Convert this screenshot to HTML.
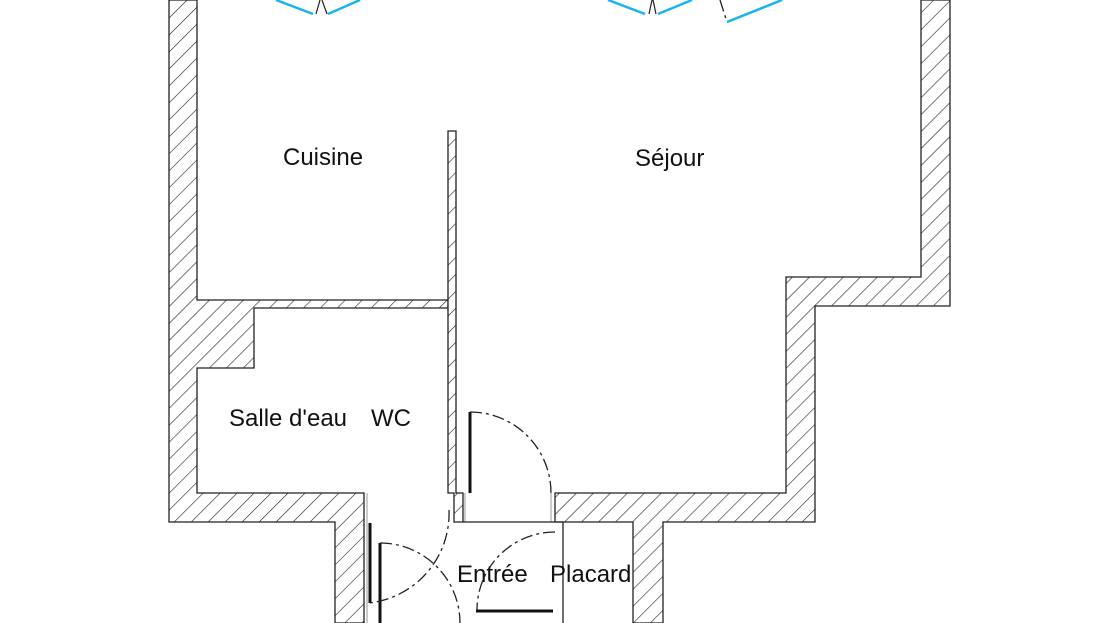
<!DOCTYPE html>
<html><head><meta charset="utf-8">
<style>
html,body{margin:0;padding:0;background:#fff;}
svg{display:block;}
text{font-family:"Liberation Sans",sans-serif;font-size:24px;fill:#111;}
</style></head>
<body>
<svg width="1110" height="623" viewBox="0 0 1110 623" xmlns="http://www.w3.org/2000/svg">
<defs>
<pattern id="h" patternUnits="userSpaceOnUse" width="12" height="12" patternTransform="rotate(45)">
<rect width="12" height="12" fill="#fff"/>
<line x1="0" y1="0" x2="0" y2="12" stroke="#222" stroke-width="1.2"/>
</pattern>
</defs>
<g fill="url(#h)" stroke="#222" stroke-width="1.3">
<polygon points="169,0 197,0 197,300 448,300 448,308 254,308 254,368 197,368 197,493 364,493 364,623 335,623 335,522 169,522"/>
<polygon points="448,131 456,131 456,493 463,493 463,522 454,522 454,493 448,493"/>
<polygon points="921,0 950,0 950,306 815,306 815,522 663,522 663,623 633,623 633,522 555,522 555,493 786,493 786,277 921,277"/>
</g>
<g stroke="#999" stroke-width="1" fill="none">
<line x1="367" y1="493" x2="367" y2="623"/>
<line x1="465" y1="493" x2="465" y2="522"/>
<line x1="551" y1="493" x2="551" y2="522"/>
</g>
<g stroke="#222" stroke-width="1.3" fill="none">
<line x1="463" y1="522" x2="563" y2="522"/>
<line x1="563" y1="522" x2="563" y2="623"/>
</g>
<g stroke="#111" stroke-width="3" fill="none">
<line x1="470" y1="412" x2="470" y2="493"/>
<line x1="370" y1="523" x2="370" y2="603"/>
<line x1="380" y1="543" x2="380" y2="623"/>
<line x1="476" y1="611" x2="553" y2="611"/>
</g>
<g stroke="#222" stroke-width="1.3" fill="none" stroke-dasharray="12,4,3,4">
<path d="M470,412 A81,81 0 0 1 551,493"/>
<path d="M449,510 A90,90 0 0 1 369,603"/>
<path d="M380,543 A80,80 0 0 1 460,623"/>
<path d="M555,532 A78,78 0 0 0 477,610"/>
<path d="M720,0 L727,22"/>
</g>
<g stroke="#19b4ef" stroke-width="2.5" fill="none">
<line x1="276" y1="0" x2="313" y2="14"/>
<line x1="328" y1="14" x2="360" y2="0"/>
<line x1="608" y1="0" x2="645" y2="14"/>
<line x1="658" y1="14" x2="692" y2="0"/>
<line x1="727" y1="22" x2="782" y2="0"/>
</g>
<g stroke="#222" stroke-width="1.2" fill="none">
<line x1="316" y1="14" x2="320" y2="0"/>
<line x1="327" y1="14" x2="322" y2="0"/>
<line x1="649" y1="14" x2="652" y2="0"/>
<line x1="656" y1="14" x2="653" y2="0"/>
</g>
<text x="283" y="165">Cuisine</text>
<text x="635" y="166">Séjour</text>
<text x="229" y="426">Salle d'eau</text>
<text x="371" y="426">WC</text>
<text x="457" y="582">Entrée</text>
<text x="550" y="582">Placard</text>
</svg>
</body></html>
